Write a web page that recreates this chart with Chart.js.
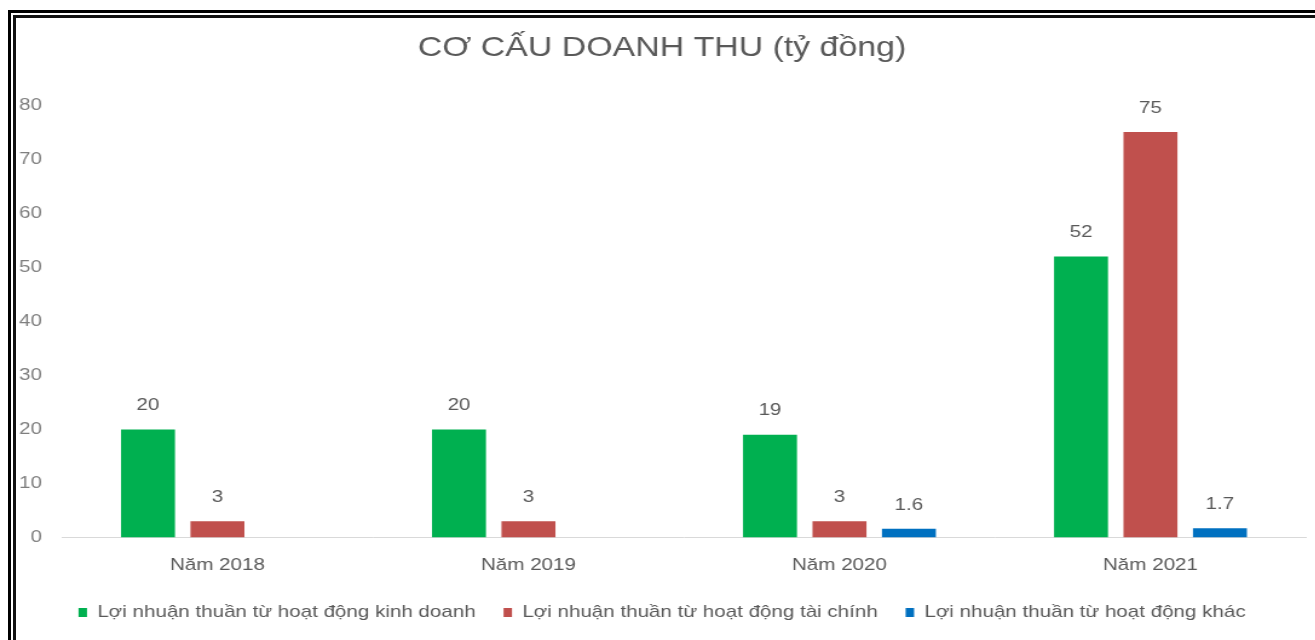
<!DOCTYPE html>
<html>
<head>
<meta charset="utf-8">
<script src="https://cdn.jsdelivr.net/npm/chart.js@4"></script>
<style>
  html, body { margin: 0; padding: 0; background: #fff; overflow: hidden; }
  body { width: 1315px; height: 640px; position: relative; }
  /* double frame around the chart object, open to the right and bottom */
  .frame-outer { position: absolute; left: 8px; top: 10px; width: 2000px; height: 2000px;
    border-left: 3px solid #000; border-top: 3px solid #000; }
  .frame-inner { position: absolute; left: 13px; top: 15px; width: 2000px; height: 2000px;
    border-left: 3px solid #111; border-top: 3px solid #111; }
  /* the chart is laid out narrower and stretched sideways */
  #wrap { position: absolute; left: 0; top: 0; width: 1108px; height: 640px;
    transform: scaleX(1.21); transform-origin: 0 0; }
</style>
</head>
<body>
<div class="frame-outer"></div>
<div class="frame-inner"></div>
<div id="wrap"><canvas id="revChart"></canvas></div>
<script>
const years = ['Năm 2018', 'Năm 2019', 'Năm 2020', 'Năm 2021'];
const kinhDoanh = [20, 20, 19, 52];
const taiChinh = [3, 3, 3, 75];
const khac = [null, null, 1.6, 1.7];
const seriesNames = [
  'Lợi nhuận thuần từ hoạt động kinh doanh',
  'Lợi nhuận thuần từ hoạt động tài chính',
  'Lợi nhuận thuần từ hoạt động khác'
];
const yMin = 0, yMax = 80, yStep = 10;

const colors = ['#00b050', '#c0504d', '#0070c0'];
const fontFamily = '"Liberation Sans", Arial, sans-serif';

// value written above each bar
const barValues = {
  id: 'barValues',
  afterDatasetsDraw(chart) {
    const ctx = chart.ctx;
    ctx.save();
    ctx.font = '17px ' + fontFamily;
    ctx.fillStyle = '#595959';
    ctx.textAlign = 'center';
    ctx.textBaseline = 'middle';
    chart.data.datasets.forEach((ds, i) => {
      chart.getDatasetMeta(i).data.forEach((bar, j) => {
        const v = ds.data[j];
        if (v == null) return;
        ctx.fillText(String(v), bar.x, bar.y - 24);
      });
    });
    ctx.restore();
  }
};

new Chart(document.getElementById('revChart'), {
  type: 'bar',
  data: {
    labels: years,
    datasets: [
      { label: seriesNames[0], data: kinhDoanh, backgroundColor: colors[0] },
      { label: seriesNames[1], data: taiChinh, backgroundColor: colors[1] },
      { label: seriesNames[2], data: khac, backgroundColor: colors[2] }
    ]
  },
  options: {
    responsive: true,
    maintainAspectRatio: false,
    animation: false,
    categoryPercentage: 0.67,
    barPercentage: 0.777,
    // a little left padding pulls the title and legend towards the middle
    layout: { padding: { left: 15, right: 28.7, top: 0, bottom: 9 } },
    plugins: {
      title: {
        display: true,
        text: 'CƠ CẤU DOANH THU (tỷ đồng)',
        color: '#595959',
        font: { family: fontFamily, size: 28, weight: 'normal' },
        padding: { top: 31, bottom: 40.4 }
      },
      legend: {
        position: 'bottom',
        maxHeight: 50,
        labels: {
          boxWidth: 7, boxHeight: 9, padding: 23,
          color: '#595959',
          font: { family: fontFamily, size: 17 }
        }
      },
      tooltip: { enabled: false }
    },
    scales: {
      x: {
        grid: { display: false, drawTicks: false },
        border: { display: true, color: '#d9d9d9', width: 1 },
        ticks: { color: '#595959', font: { family: fontFamily, size: 17 }, padding: 18 },
        afterFit: s => { s.height = 43.5; }
      },
      y: {
        min: yMin, max: yMax,
        grid: { display: false, drawTicks: false },
        border: { display: false },
        ticks: { stepSize: yStep, color: '#7f7f7f', font: { family: fontFamily, size: 17 }, padding: 16.5 },
        afterFit: s => { s.width = 36.2; }
      }
    }
  },
  plugins: [barValues]
});
</script>
</body>
</html>
